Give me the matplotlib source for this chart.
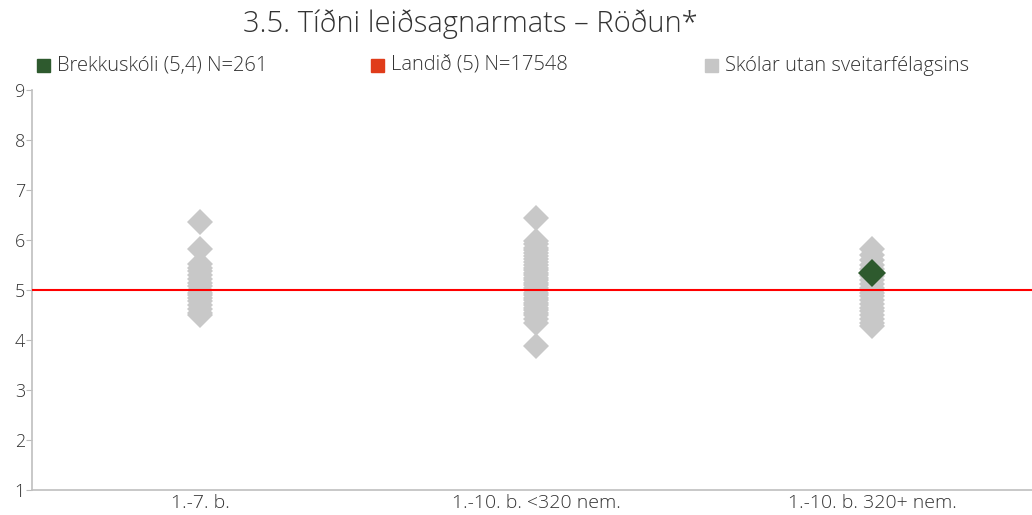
import matplotlib.pyplot as plt
from matplotlib.patches import Rectangle

plt.rcParams['font.family'] = ['Open Sans', 'DejaVu Sans']

# Flokkar skóla og meðaltöl einstakra skóla
flokkar = ['1.-7. b.', '1.-10. b. <320 nem.', '1.-10. b. 320+ nem.']
skolar_1_7 = [6.37, 5.82, 5.52, 5.45, 5.38, 5.3, 5.22, 5.15, 5.08, 5.0, 4.95,
              4.9, 4.85, 4.78, 4.7, 4.62, 4.55, 4.5]
skolar_1_10_litlir = [6.45, 5.98, 5.92, 5.85, 5.8, 5.74, 5.68, 5.62, 5.56, 5.5,
                      5.45, 5.4, 5.35, 5.3, 5.25, 5.2, 5.15, 5.1, 5.05, 5.0,
                      4.95, 4.9, 4.85, 4.8, 4.75, 4.7, 4.65, 4.6, 4.55, 4.5,
                      4.42, 4.35, 3.88]
skolar_1_10_storir = [5.82, 5.7, 5.6, 5.5, 5.42, 5.35, 5.28, 5.2, 5.12, 5.05,
                      5.0, 4.95, 4.88, 4.8, 4.72, 4.65, 4.58, 4.5, 4.42, 4.35,
                      4.28]
skolar = [skolar_1_7, skolar_1_10_litlir, skolar_1_10_storir]

brekkuskoli_flokkur = 2
brekkuskoli = 5.35
landid = 5.0

legend_labels = ['Brekkuskóli (5,4) N=261', 'Landið (5) N=17548',
                 'Skólar utan sveitarfélagsins']
legend_colors = ['#2e5a2e', '#e03c1a', '#c6c6c6']

fig = plt.figure(figsize=(10.32, 5.15), dpi=100)
ax = fig.add_axes([0.031, 0.0485, 0.969, 0.7767])

for i, gildi in enumerate(skolar):
    ax.plot([i] * len(gildi), gildi, linestyle='none', marker='D',
            markersize=13, color='#c8c8c8', markeredgewidth=0, zorder=2)

ax.axhline(landid, color='#ff0000', linewidth=1.5, zorder=3)
ax.plot([brekkuskoli_flokkur], [brekkuskoli], linestyle='none', marker='D',
        markersize=14, color='#2e5a2e', markeredgewidth=0, zorder=4)

ax.set_xlim(-0.5, 2.475)
ax.set_ylim(1, 9)
ax.set_yticks(range(1, 10))
ax.set_xticks(range(len(flokkar)))
ax.set_xticklabels(flokkar)
ax.tick_params(axis='x', length=0, labelsize=14, colors='#333333', pad=3)
ax.tick_params(axis='y', length=4, width=0.8, color='#bbbbbb',
               labelsize=13, labelcolor='#333333', pad=1)
for lbl in ax.get_xticklabels() + ax.get_yticklabels():
    lbl.set_fontweight('light')
for side in ['top', 'right']:
    ax.spines[side].set_visible(False)
for side in ['left', 'bottom']:
    ax.spines[side].set_color('#bfbfbf')
    ax.spines[side].set_linewidth(1.2)

fig.text(0.456, 0.953, '3.5. Tíðni leiðsagnarmats – Röðun*',
         ha='center', va='center', fontsize=21, fontweight='light',
         color='#333333')

# Skýringar efst
for k, (lab, col) in enumerate(zip(legend_labels, legend_colors)):
    x0 = (37 + k * 334) / 1032
    fig.patches.append(Rectangle((x0, 0.86), 13 / 1032, 13 / 515,
                                 transform=fig.transFigure, color=col))
    fig.text(x0 + 20 / 1032, 0.872, lab, ha='left', va='center',
             fontsize=14.5, fontweight='light', color='#333333')

fig.savefig('out.png', dpi=100, facecolor='white')
